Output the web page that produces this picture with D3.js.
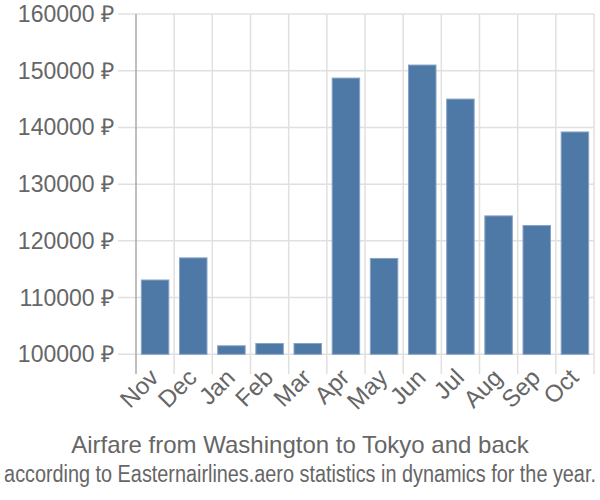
<!DOCTYPE html>
<html><head><meta charset="utf-8">
<script src="https://cdn.jsdelivr.net/npm/d3@7"></script>
<style>body{margin:0;background:#fff}svg{display:block}text{font-family:"Liberation Sans",Arial,sans-serif}</style>
</head><body><svg id="c" width="600" height="500"></svg>
<script>
const months = ["Nov","Dec","Jan","Feb","Mar","Apr","May","Jun","Jul","Aug","Sep","Oct"];
const prices = [113100,117000,101500,101900,101900,148700,116900,151000,145000,124400,122700,139200];
const yTicks = [100000,110000,120000,130000,140000,150000,160000];
const title = "Airfare from Washington to Tokyo and back";
const subtitle = "according to Easternairlines.aero statistics in dynamics for the year.";

const svg = d3.select("#c");
const L = 136, R = 594, T = 14, B = 354.3;
const x = d3.scaleBand().domain(months).range([L, R]).paddingInner(0.28).paddingOuter(0.14);
const xb = d3.scaleBand().domain(months).range([L, R]);
const y = d3.scaleLinear().domain([100000, 160000]).range([B, T]);
const grid = "#e0e0e0", txt = "#666";

// horizontal gridlines
svg.append("g").selectAll("line").data(yTicks).join("line")
  .attr("x1", 118).attr("x2", R).attr("y1", d => y(d)).attr("y2", d => y(d))
  .attr("stroke", grid).attr("stroke-width", 1.5);
// vertical gridlines at band boundaries
const bounds = months.map(m => xb(m)).concat([R]);
svg.append("g").selectAll("line").data(bounds.slice(1)).join("line")
  .attr("x1", d => d).attr("x2", d => d).attr("y1", T).attr("y2", 374)
  .attr("stroke", grid).attr("stroke-width", 1.5);
// y axis line
svg.append("line").attr("x1", L).attr("x2", L).attr("y1", T).attr("y2", 374)
  .attr("stroke", "#aaa").attr("stroke-width", 1.5);

// bars
svg.append("g").selectAll("rect").data(prices).join("rect")
  .attr("x", (d, i) => x(months[i])).attr("width", x.bandwidth())
  .attr("y", d => y(d)).attr("height", d => B - y(d))
  .attr("fill", "#4e78a6").attr("stroke", "#86a3c6").attr("stroke-width", 1);

// y labels
svg.append("g").selectAll("text").data(yTicks).join("text")
  .attr("x", 114).attr("y", d => y(d) + 8)
  .attr("text-anchor", "end").attr("fill", txt).attr("font-size", 23)
  .text(d => d + " ₽");

// x labels
svg.append("g").selectAll("text").data(months).join("text")
  .attr("transform", m => `translate(${xb(m) + xb.bandwidth()/2 + 5},${379}) rotate(-45)`)
  .attr("text-anchor", "end").attr("fill", txt).attr("font-size", 24)
  .text(m => m);

svg.append("text").attr("x", 300).attr("y", 453).attr("text-anchor", "middle")
  .attr("fill", txt).attr("font-size", 24).text(title);
const sub = svg.append("text").attr("x", 0).attr("y", 0).attr("text-anchor", "middle")
  .attr("fill", txt).attr("font-size", 23).text(subtitle);
const w = sub.node().getComputedTextLength();
const sx = Math.min(1, 592 / w);
sub.attr("transform", `translate(300,482) scale(${sx},1)`);
</script></body></html>
